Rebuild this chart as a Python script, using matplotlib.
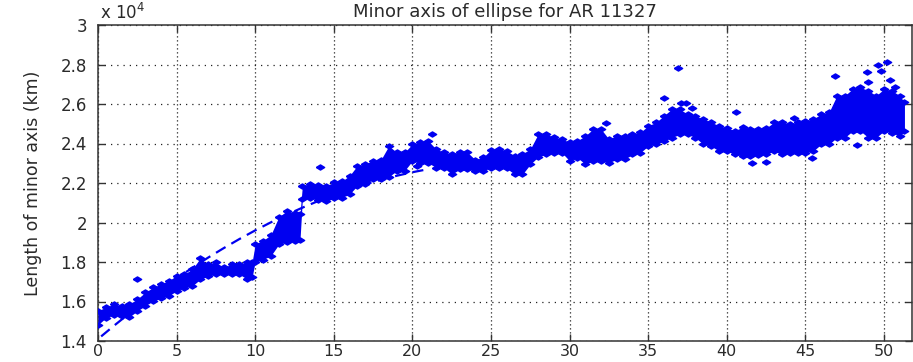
import matplotlib
matplotlib.use("Agg")
import matplotlib.pyplot as plt
import numpy as np

# Time since start (hours) and the upper / lower edge of the measured minor-axis cloud (km)
t_hours = [0.0, 0.5, 1.0, 1.5, 2.0, 2.5, 3.0, 3.5, 4.0, 4.5, 5.0, 5.5, 6.0, 6.5, 7.0, 7.5,
           8.0, 8.5, 9.0, 9.5, 9.8, 10.0, 10.5, 11.0, 11.5, 12.0, 12.5, 12.85, 13.0, 13.5,
           14.0, 14.5, 15.0, 15.5, 16.0, 16.5, 17.0, 17.5, 18.0, 18.5, 19.0, 19.5, 20.0,
           20.5, 21.0, 21.5, 22.0, 22.5, 23.0, 23.5, 24.0, 24.5, 25.0, 25.5, 26.0, 26.5,
           27.0, 27.5, 28.0, 28.5, 29.0, 29.5, 30.0, 30.5, 31.0, 31.5, 32.0, 32.5, 33.0,
           33.5, 34.0, 34.5, 35.0, 35.5, 36.0, 36.5, 37.0, 37.5, 38.0, 38.5, 39.0, 39.5,
           40.0, 40.5, 41.0, 41.5, 42.0, 42.5, 43.0, 43.5, 44.0, 44.5, 45.0, 45.5, 46.0,
           46.5, 47.0, 47.5, 48.0, 48.5, 49.0, 49.5, 50.0, 50.5, 51.0, 51.3]

minor_upper = [15540, 15700, 15870, 15780, 15880, 16120, 16460, 16710, 16880, 17050, 17310,
               17390, 17640, 18180, 17880, 17980, 17730, 17880, 17880, 17980, 17980, 18910,
               19080, 19380, 20280, 20580, 20480, 20430, 21860, 21950, 21880, 21860, 22030,
               22080, 22370, 22880, 22960, 23130, 23180, 23880, 23550, 23550, 23970, 24060,
               24140, 23720, 23550, 23460, 23580, 23550, 23180, 23300, 23680, 23720, 23630,
               23380, 23480, 23720, 24480, 24480, 24310, 24220, 24060, 24140, 24390, 24730,
               24730, 24220, 24390, 24390, 24480, 24560, 24900, 25070, 25410, 25740, 25740,
               25490, 25380, 25240, 25080, 24900, 24780, 24650, 24820, 24730, 24730, 24780,
               25070, 25070, 24990, 25080, 25150, 25240, 25490, 25580, 26420, 26420, 26760,
               26840, 26680, 26420, 26760, 26680, 26420, 26080]

minor_lower = [14820, 15170, 15320, 15270, 15220, 15520, 15780, 16020, 16170, 16280, 16540,
               16700, 16790, 17120, 17290, 17380, 17380, 17380, 17380, 17120, 17220, 18020,
               18120, 18320, 18890, 19020, 19070, 19120, 21170, 21260, 21120, 21090, 21220,
               21260, 21430, 21870, 21930, 22190, 22190, 22320, 22610, 22620, 23120, 23020,
               23030, 22780, 22780, 22440, 22690, 22690, 22610, 22610, 22780, 22780, 22740,
               22440, 22440, 22950, 23320, 23450, 23540, 23540, 23120, 23280, 22950, 23120,
               23120, 23030, 23200, 23200, 23450, 23540, 23870, 23960, 24120, 24300, 24460,
               24460, 24300, 23960, 23870, 23620, 23620, 23450, 23370, 23370, 23420, 23450,
               23620, 23450, 23540, 23540, 23540, 23620, 23960, 23960, 24300, 24300, 24630,
               24630, 24300, 24300, 24630, 24550, 24380, 24620]

# Isolated measurements away from the main cloud
stray_t = [2.46, 14.1, 20.3, 21.25, 32.3, 36.0, 36.9, 37.1, 37.4, 37.8, 40.6, 41.6, 42.5,
           44.3, 45.4, 46.9, 48.3, 48.9, 49.0, 49.6, 49.8, 50.2, 50.4, 50.7]
stray_km = [17140, 22820, 22850, 24480, 25020, 26320, 27840, 26070, 26070, 25800, 25580,
            23000, 23050, 25270, 23250, 27420, 23900, 27600, 27130, 28000, 27650, 28140,
            27200, 26880]

# Fitted trend over the first ~21 hours
fit_t = [0.2, 1, 2, 3, 4, 5, 6, 7, 8, 9, 10, 11, 12, 13, 14, 15, 16, 17, 18, 19, 20, 21]
fit_km = [14233, 14763, 15403, 16017, 16606, 17168, 17706, 18220, 18704, 19165, 19600,
          20010, 20394, 20750, 21085, 21392, 21674, 21931, 22161, 22366, 22546, 22700]

SCALE = 1e4
BLUE = "#0000f0"
TXT = "#2a2a2a"
wide_diamond = [(-1, 0), (0, 0.62), (1, 0), (0, -0.62), (-1, 0)]

fig = plt.figure(figsize=(9.13, 3.62), dpi=100)
ax = fig.add_axes([98 / 913, 21 / 362, 814 / 913, 316 / 362])

t = np.asarray(t_hours)
up = np.asarray(minor_upper) / SCALE
lo = np.asarray(minor_lower) / SCALE

ax.plot(np.asarray(fit_t), np.asarray(fit_km) / SCALE, color=BLUE, lw=1.6,
        dashes=(5, 3), zorder=2)
ax.fill_between(t, lo, up, color=BLUE, lw=0, zorder=3)
for series in (up, lo):
    ax.plot(t, series, ls="none", marker=wide_diamond, ms=6, color=BLUE,
            mec=BLUE, zorder=4)
ax.plot(np.asarray(stray_t), np.asarray(stray_km) / SCALE, ls="none",
        marker=wide_diamond, ms=6, color=BLUE, mec=BLUE, zorder=4)

ax.set_xlim(0, 51.78)
ax.set_ylim(1.4, 3.0)
ax.set_xticks(np.arange(0, 51, 5))
ax.set_yticks([1.4, 1.6, 1.8, 2.0, 2.2, 2.4, 2.6, 2.8, 3.0])
ax.set_yticklabels(["1.4", "1.6", "1.8", "2", "2.2", "2.4", "2.6", "2.8", "3"])

ax.grid(axis="x", color="#222222", lw=0.9, linestyle=(0, (1, 2.2)))
ax.grid(axis="y", color="#222222", lw=0.9, linestyle=(0, (1, 4)))
ax.set_axisbelow(True)

for s in ax.spines.values():
    s.set_color("#333333")
    s.set_linewidth(1.1)
ax.tick_params(direction="in", top=True, right=True, length=5, width=1.0,
               color="#333333", labelsize=12, labelcolor=TXT)
ax.tick_params(axis="y", pad=8)
ax.tick_params(axis="x", pad=2, labelsize=11.5)

ax.set_ylabel("Length of minor axis (km)", fontsize=12.5, color=TXT, labelpad=13)
ax.set_title("Minor axis of ellipse for AR 11327", fontsize=13, color=TXT, pad=6)
fig.text(100 / 913, 1 - 13 / 362, r"x 10$^{4}$", fontsize=12, color=TXT,
         va="center", ha="left")

fig.savefig("out.png", dpi=100)
